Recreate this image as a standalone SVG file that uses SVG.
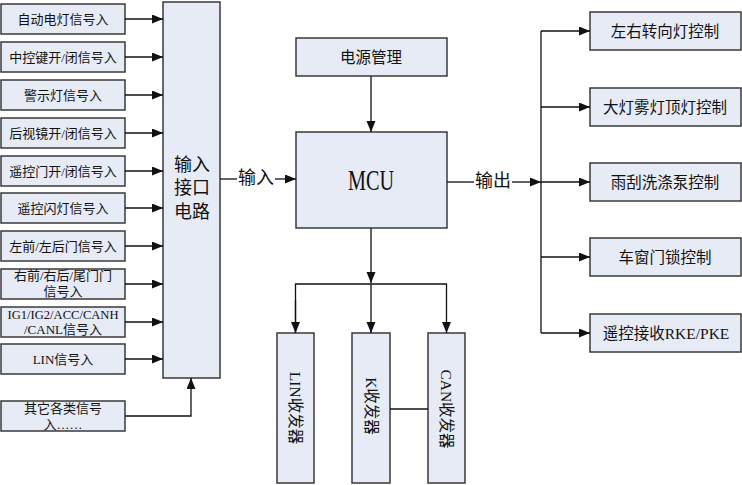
<svg xmlns="http://www.w3.org/2000/svg" width="742" height="485" viewBox="0 0 742 485">
<style>
.box{fill:#e6ebf5;stroke:#3a3a3a;stroke-width:1.5}
.ln{fill:none;stroke:#111;stroke-width:1.3}
text{font-family:"Liberation Serif","Noto Sans CJK SC",serif;fill:#111;text-anchor:middle;dominant-baseline:central}
.s13{font-size:13px}
.s16{font-size:15.5px}
.s18{font-size:18px}
</style>
<defs>
<marker id="ar" markerUnits="userSpaceOnUse" markerWidth="12" markerHeight="10" refX="11" refY="4.5" orient="auto">
<path d="M0,0 L11,4.5 L0,9 z" fill="#111"/>
</marker>
</defs>
<rect width="742" height="485" fill="#fff"/>

<g id="in1"><rect class="box" x="1" y="4" width="124" height="30"/><text class="s13" x="63" y="19">自动电灯信号入</text></g>
<g id="in2"><rect class="box" x="1" y="42" width="124" height="30"/><text class="s13" x="63" y="57">中控键开/闭信号入</text></g>
<g id="in3"><rect class="box" x="1" y="80" width="124" height="30"/><text class="s13" x="63" y="95">警示灯信号入</text></g>
<g id="in4"><rect class="box" x="1" y="118" width="124" height="30"/><text class="s13" x="63" y="133">后视镜开/闭信号入</text></g>
<g id="in5"><rect class="box" x="1" y="156" width="124" height="30"/><text class="s13" x="63" y="171">遥控门开/闭信号入</text></g>
<g id="in6"><rect class="box" x="1" y="193" width="124" height="30"/><text class="s13" x="63" y="208">遥控闪灯信号入</text></g>
<g id="in7"><rect class="box" x="1" y="231" width="124" height="30"/><text class="s13" x="63" y="246">左前/左后门信号入</text></g>
<g id="in8"><rect class="box" x="1" y="269" width="124" height="30"/><text class="s13" x="63" y="275">右前/右后/尾门门</text><text class="s13" x="63" y="291">信号入</text></g>
<g id="in9"><rect class="box" x="1" y="307" width="124" height="30"/><text class="s13" x="63" y="314" textLength="111" lengthAdjust="spacingAndGlyphs">IG1/IG2/ACC/CANH</text><text class="s13" x="63" y="329">/CANL信号入</text></g>
<g id="in10"><rect class="box" x="1" y="344" width="124" height="30"/><text class="s13" x="63" y="359">LIN信号入</text></g>
<g id="in11"><rect class="box" x="1" y="401" width="124" height="30"/><text class="s13" x="63" y="408">其它各类信号</text><text class="s13" x="63" y="424">入……</text></g>

<g id="inputif"><rect class="box" x="163" y="2" width="57" height="376"/><text class="s18" x="192" y="165">输入</text><text class="s18" x="192" y="188">接口</text><text class="s18" x="192" y="212">电路</text></g>

<g id="power"><rect class="box" x="296" y="38" width="151" height="38"/><text class="s16" x="371" y="57">电源管理</text></g>
<g id="mcu"><rect class="box" x="296" y="132" width="151" height="96"/><text x="371" y="179" style="font-size:30px" textLength="46" lengthAdjust="spacingAndGlyphs">MCU</text></g>

<g id="out1"><rect class="box" x="590" y="12" width="151" height="38"/><text class="s16" x="665" y="31">左右转向灯控制</text></g>
<g id="out2"><rect class="box" x="590" y="88" width="151" height="38"/><text class="s16" x="665" y="107">大灯雾灯顶灯控制</text></g>
<g id="out3"><rect class="box" x="590" y="163" width="151" height="38"/><text class="s16" x="665" y="182">雨刮洗涤泵控制</text></g>
<g id="out4"><rect class="box" x="590" y="238" width="151" height="38"/><text class="s16" x="665" y="257">车窗门锁控制</text></g>
<g id="out5"><rect class="box" x="590" y="314" width="151" height="38"/><text class="s16" x="666" y="333">遥控接收RKE/PKE</text></g>

<g id="lin"><rect class="box" x="277" y="333" width="37" height="150"/><text class="s16" transform="translate(295.5,408) rotate(90)">LIN收发器</text></g>
<g id="k"><rect class="box" x="352" y="333" width="38" height="150"/><text class="s16" transform="translate(371,406) rotate(90)">K收发器</text></g>
<g id="can"><rect class="box" x="428" y="333" width="37" height="150"/><text class="s16" transform="translate(446.5,409) rotate(90)">CAN收发器</text></g>

<g id="connectors">
<line class="ln" x1="125" y1="19" x2="163" y2="19" marker-end="url(#ar)"/>
<line class="ln" x1="125" y1="57" x2="163" y2="57" marker-end="url(#ar)"/>
<line class="ln" x1="125" y1="95" x2="163" y2="95" marker-end="url(#ar)"/>
<line class="ln" x1="125" y1="133" x2="163" y2="133" marker-end="url(#ar)"/>
<line class="ln" x1="125" y1="171" x2="163" y2="171" marker-end="url(#ar)"/>
<line class="ln" x1="125" y1="208" x2="163" y2="208" marker-end="url(#ar)"/>
<line class="ln" x1="125" y1="246" x2="163" y2="246" marker-end="url(#ar)"/>
<line class="ln" x1="125" y1="284" x2="163" y2="284" marker-end="url(#ar)"/>
<line class="ln" x1="125" y1="322" x2="163" y2="322" marker-end="url(#ar)"/>
<line class="ln" x1="125" y1="359" x2="163" y2="359" marker-end="url(#ar)"/>
<polyline class="ln" points="125,416 191,416 191,378" marker-end="url(#ar)"/>

<line class="ln" x1="220" y1="179" x2="237" y2="179"/>
<text class="s18" x="256" y="178">输入</text>
<line class="ln" x1="275" y1="179" x2="296" y2="179" marker-end="url(#ar)"/>

<line class="ln" x1="371" y1="76" x2="371" y2="132" marker-end="url(#ar)"/>

<line class="ln" x1="447" y1="182" x2="474" y2="182"/>
<text class="s18" x="493" y="181">输出</text>
<line class="ln" x1="512" y1="182" x2="541" y2="182" marker-end="url(#ar)"/>
<line class="ln" x1="541" y1="31" x2="541" y2="333"/>
<line class="ln" x1="541" y1="31" x2="590" y2="31" marker-end="url(#ar)"/>
<line class="ln" x1="541" y1="107" x2="590" y2="107" marker-end="url(#ar)"/>
<line class="ln" x1="541" y1="182" x2="590" y2="182" marker-end="url(#ar)"/>
<line class="ln" x1="541" y1="257" x2="590" y2="257" marker-end="url(#ar)"/>
<line class="ln" x1="541" y1="333" x2="590" y2="333" marker-end="url(#ar)"/>

<line class="ln" x1="371" y1="228" x2="371" y2="283" marker-end="url(#ar)"/>
<polyline class="ln" points="295.5,333 295.5,284 446.5,284 446.5,333" marker-end="url(#ar)"/>
<line class="ln" x1="295.5" y1="300" x2="295.5" y2="333" marker-end="url(#ar)"/>
<line class="ln" x1="371" y1="284" x2="371" y2="333" marker-end="url(#ar)"/>
<line class="ln" x1="390" y1="409" x2="428" y2="409"/>
</g>
</svg>
